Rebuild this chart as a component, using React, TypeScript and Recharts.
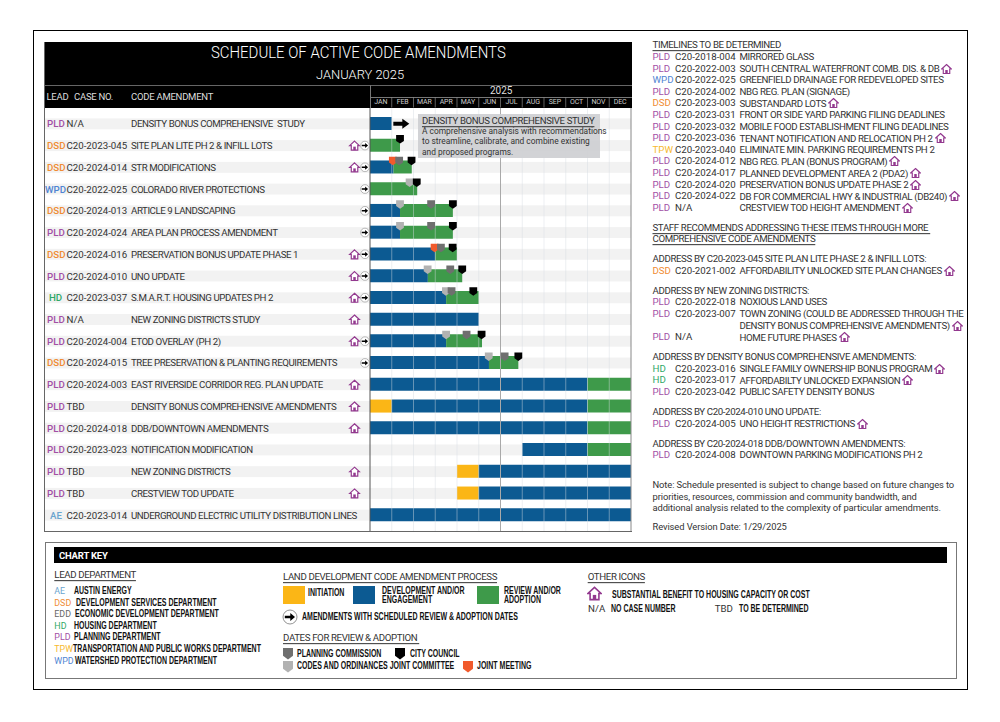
import React from 'react';
import { ComposedChart, Bar, Scatter, XAxis, YAxis, ReferenceLine, ReferenceArea } from 'recharts';

const months = ['JAN', 'FEB', 'MAR', 'APR', 'MAY', 'JUN', 'JUL', 'AUG', 'SEP', 'OCT', 'NOV', 'DEC'];
const monthTicks = [0.5, 1.5, 2.5, 3.5, 4.5, 5.5, 6.5, 7.5, 8.5, 9.5, 10.5, 11.5];
const monthLines = [1, 2, 3, 4, 5, 7, 8, 9, 10, 11];

const titles = [
  'DENSITY BONUS COMPREHENSIVE  STUDY', 'SITE PLAN LITE PH 2 & INFILL LOTS', 'STR MODIFICATIONS',
  'COLORADO RIVER PROTECTIONS', 'ARTICLE 9 LANDSCAPING', 'AREA PLAN PROCESS AMENDMENT',
  'PRESERVATION BONUS UPDATE PHASE 1', 'UNO UPDATE', 'S.M.A.R.T. HOUSING UPDATES PH 2',
  'NEW ZONING DISTRICTS STUDY', 'ETOD OVERLAY (PH 2)', 'TREE PRESERVATION & PLANTING REQUIREMENTS',
  'EAST RIVERSIDE CORRIDOR REG. PLAN UPDATE', 'DENSITY BONUS COMPREHENSIVE AMENDMENTS', 'DDB/DOWNTOWN AMENDMENTS',
  'NOTIFICATION MODIFICATION', 'NEW ZONING DISTRICTS', 'CRESTVIEW TOD UPDATE',
  'UNDERGROUND ELECTRIC UTILITY DISTRIBUTION LINES',
];
const leads = ['PLD', 'DSD', 'DSD', 'WPD', 'DSD', 'PLD', 'DSD', 'PLD', 'HD', 'PLD', 'PLD', 'DSD', 'PLD', 'PLD', 'PLD', 'PLD', 'PLD', 'PLD', 'AE'];
const caseNumbers = [
  'N/A', 'C20-2023-045', 'C20-2024-014', 'C20-2022-025', 'C20-2024-013', 'C20-2024-024', 'C20-2024-016',
  'C20-2024-010', 'C20-2023-037', 'N/A', 'C20-2024-004', 'C20-2024-015', 'C20-2024-003', 'TBD',
  'C20-2024-018', 'C20-2023-023', 'TBD', 'TBD', 'C20-2023-014',
];
const housingRows = [1, 2, 6, 7, 8, 9, 10, 12, 13, 14, 16, 17];
const scheduledRows = [1, 2, 3, 4, 5, 6, 7, 8, 10, 11];

// durations in months, stacked left to right
const waitMonths = [0, 0, 0, 0, 0, 0, 0, 0, 0, 0, 0, 0, 0, 0, 0, 7, 4, 4, 0];
const initiationMonths = [0, 0, 0, 0, 0, 0, 0, 0, 0, 0, 0, 0, 0, 1, 0, 0, 1, 1, 0];
const developmentMonths = [1, 0, 1.08, 0, 1.38, 1.38, 3, 2.66, 3.5, 5, 3.5, 5.47, 10, 9, 10, 3, 7, 7, 12];
const reviewMonths = [0, 1.38, 0.84, 2.17, 2.43, 2.43, 1, 1.58, 1.5, 0, 1.65, 1.35, 2, 2, 2, 2, 0, 0, 0];

const jointRows = [2, 6];
const jointDates = [1.05, 2.97];
const codesRows = [3, 4, 5, 7, 8, 10, 11];
const codesDates = [1.82, 1.38, 1.38, 2.65, 3.49, 3.5, 5.46];
const commissionRows = [2, 4, 5, 6, 7, 8, 10, 11];
const commissionDates = [1.34, 2.81, 2.81, 3.26, 3.69, 3.75, 4.44, 6.19];
const councilRows = [1, 2, 3, 4, 5, 6, 7, 8, 10, 11];
const councilDates = [1.38, 1.91, 2.15, 3.81, 3.81, 3.8, 4.24, 4.75, 5.13, 6.82];

const tbdItems = [
  ['PLD', 'C20-2018-004', 'MIRRORED GLASS', 0],
  ['PLD', 'C20-2022-003', 'SOUTH CENTRAL WATERFRONT COMB. DIS. & DB', 1],
  ['WPD', 'C20-2022-025', 'GREENFIELD DRAINAGE FOR REDEVELOPED SITES', 0],
  ['PLD', 'C20-2024-002', 'NBG REG. PLAN (SIGNAGE)', 0],
  ['DSD', 'C20-2023-003', 'SUBSTANDARD LOTS', 1],
  ['PLD', 'C20-2023-031', 'FRONT OR SIDE YARD PARKING FILING DEADLINES', 0],
  ['PLD', 'C20-2023-032', 'MOBILE FOOD ESTABLISHMENT FILING DEADLINES', 0],
  ['PLD', 'C20-2023-036', 'TENANT NOTIFICATION AND RELOCATION PH 2', 1],
  ['TPW', 'C20-2023-040', 'ELIMINATE MIN. PARKING REQUIREMENTS PH 2', 0],
  ['PLD', 'C20-2024-012', 'NBG REG. PLAN (BONUS PROGRAM)', 1],
  ['PLD', 'C20-2024-017', 'PLANNED DEVELOPMENT AREA 2 (PDA2)', 1],
  ['PLD', 'C20-2024-020', 'PRESERVATION BONUS UPDATE PHASE 2', 1],
  ['PLD', 'C20-2024-022', 'DB FOR COMMERCIAL HWY & INDUSTRIAL (DB240)', 1],
  ['PLD', 'N/A', 'CRESTVIEW TOD HEIGHT AMENDMENT', 1],
];
const siteItems = [['DSD', 'C20-2021-002', 'AFFORDABILITY UNLOCKED SITE PLAN CHANGES', 1]];
const zoningItems = [
  ['PLD', 'C20-2022-018', 'NOXIOUS LAND USES', 0],
  ['PLD', 'C20-2023-007', 'TOWN ZONING (COULD BE ADDRESSED THROUGH THE', 0],
  ['', '', 'DENSITY BONUS COMPREHENSIVE AMENDMENTS)', 1],
  ['PLD', 'N/A', 'HOME FUTURE PHASES', 1],
];
const bonusItems = [
  ['HD', 'C20-2023-016', 'SINGLE FAMILY OWNERSHIP BONUS PROGRAM', 1],
  ['HD', 'C20-2023-017', 'AFFORDABILTY UNLOCKED EXPANSION', 1],
  ['PLD', 'C20-2023-042', 'PUBLIC SAFETY DENSITY BONUS', 0],
];
const unoItems = [['PLD', 'C20-2024-005', 'UNO HEIGHT RESTRICTIONS', 1]];
const ddbItems = [['PLD', 'C20-2024-008', 'DOWNTOWN PARKING MODIFICATIONS PH 2', 0]];

const departments = [
  ['AE', 'AUSTIN ENERGY', 74],
  ['DSD', 'DEVELOPMENT SERVICES DEPARTMENT', 76],
  ['EDD', 'ECONOMIC DEVELOPMENT DEPARTMENT', 75],
  ['HD', 'HOUSING DEPARTMENT', 74],
  ['PLD', 'PLANNING DEPARTMENT', 74],
  ['TPW', 'TRANSPORTATION AND PUBLIC WORKS DEPARTMENT', 73],
  ['WPD', 'WATERSHED PROTECTION DEPARTMENT', 75],
];

const leadColors: any = { AE: '#6aa5cf', DSD: '#f08c33', EDD: '#666', HD: '#2fa866', PLD: '#a24fa5', TPW: '#f7b92e', WPD: '#4f84d2' };
const BLUE = '#0c5a92';
const GREEN = '#3e9a4a';
const YELLOW = '#fbb616';
const PURPLE = '#93398f';
const FONT = 'Roboto, "Liberation Sans", sans-serif';
const TIGHT = -0.38;

const rows = titles.map((title, i) => ({
  title,
  wait: waitMonths[i],
  initiation: initiationMonths[i],
  development: developmentMonths[i],
  review: reviewMonths[i],
}));
const markers = (rowList: number[], dates: number[]) => rowList.map((r, i) => ({ title: titles[r], month: dates[i] }));

function Txt({ x, y, size = 9.7, color = '#333', weight = 400, line, sp = TIGHT, sx = 1, children }: any) {
  return (
    <span style={{
      position: 'absolute', left: x, top: y, transform: `translateY(-50%) scaleX(${sx})`, transformOrigin: 'left center',
      whiteSpace: 'pre', fontSize: size, fontFamily: FONT, color, fontWeight: weight, lineHeight: 1, letterSpacing: sp,
      textDecoration: line ? 'underline' : undefined, textUnderlineOffset: 1.5,
    }}>{children}</span>
  );
}

function HousePath() {
  return (
    <g>
      <path d="M8 1.5 L15 8 H12.7 V14.5 H3.3 V8 H1 Z" fill="#fff" stroke={PURPLE} strokeWidth={1.7} strokeLinejoin="miter" />
      <rect x={6.2} y={9.5} width={3.6} height={5} fill={PURPLE} />
    </g>
  );
}

function HouseIcon({ size = 11, style }: any) {
  return <svg width={size} height={size} viewBox="0 0 16 16" style={style}><HousePath /></svg>;
}

function ArrowPath() {
  return (
    <g>
      <circle cx={8} cy={8} r={7} fill="#fff" stroke="#777" strokeWidth={0.8} />
      <path d="M2.8 6.8 H8.3 V4 L13 8 L8.3 12 V9.2 H2.8 Z" fill="#000" />
    </g>
  );
}

function Shield({ x, y, w, h, fill }: any) {
  return <path d={`M${x} ${y} H${x + w} V${y + h * 0.68} L${x + w / 2} ${y + h} L${x} ${y + h * 0.68} Z`} fill={fill} />;
}

const markerShape = (fill: string) => (props: any) => (
  <Shield x={props.cx - 3.9} y={props.cy - 10.5} w={7.8} h={8.5} fill={fill} />
);

function bigArrow(props: any) {
  const { cx, cy } = props;
  return <path d={`M${cx - 8} ${cy - 2} H${cx + 1} V${cy - 5} L${cx + 8} ${cy} L${cx + 1} ${cy + 5} V${cy + 2} H${cx - 8} Z`} fill="#000" />;
}

function TableTick({ y, index }: any) {
  const lead = leads[index];
  const leadX = lead === 'HD' ? 49 : lead === 'AE' ? 50 : lead === 'WPD' ? 45 : 47;
  return (
    <g fontFamily={FONT} fontSize={9.7} dominantBaseline="central">
      <text x={leadX} y={y} fill={leadColors[lead]} fontWeight={500}>{lead}</text>
      <text x={66.5} y={y} fill="#333">{caseNumbers[index]}</text>
      <text x={131} y={y} fill="#333" letterSpacing={-0.43} style={{ whiteSpace: 'pre' }}>{titles[index]}</text>
      {housingRows.includes(index) && <g transform={`translate(349,${y - 5.5}) scale(0.69)`}><HousePath /></g>}
      {scheduledRows.includes(index) && <g transform={`translate(360,${y - 5}) scale(0.62)`}><ArrowPath /></g>}
    </g>
  );
}

function MonthTick({ x, index }: any) {
  return (
    <g>
      <text x={x} y={102} textAnchor="middle" dominantBaseline="central" fontFamily={FONT} fontSize={7} letterSpacing={-0.1} fill="#ccc">{months[index]}</text>
      {index < 11 && <line x1={x + 10.87} x2={x + 10.87} y1={97} y2={107.5} stroke="#8a8a8a" strokeWidth={0.7} />}
    </g>
  );
}

// row stripe reaches left under the table columns, the area is given in plot coordinates
function stripe(props: any) {
  const { y, height } = props;
  return <rect x={45} y={y + 5.4} width={586} height={height - 10.8} fill="#f2f2f2" />;
}

function PanelRows({ items, top }: any) {
  return items.map((item: any, i: number) => {
    const y = top + i * 11.6;
    return (
      <React.Fragment key={i}>
        <Txt x={652.5} y={y} color={leadColors[item[0]]} sp={0}>{item[0]}</Txt>
        <Txt x={675} y={y} sp={0}>{item[1]}</Txt>
        <span style={{
          position: 'absolute', left: 739.5, top: y, transform: 'translateY(-50%)', whiteSpace: 'pre', fontSize: 9.7,
          fontFamily: FONT, color: '#333', lineHeight: 1, display: 'flex', alignItems: 'center', letterSpacing: TIGHT,
        }}>
          {item[2]}
          {item[3] === 1 && <HouseIcon size={11} style={{ marginLeft: 2 }} />}
        </span>
      </React.Fragment>
    );
  });
}

function Box({ x, y, w, h, ...style }: any) {
  return <div style={{ position: 'absolute', left: x, top: y, width: w, height: h, boxSizing: 'border-box', ...style }} />;
}

// the key uses a bold condensed face, no narrow font is installed so it is squeezed
function KeyLabel({ x, y, children }: any) {
  return (
    <span style={{
      position: 'absolute', left: x, top: y, transform: 'translateY(-50%) scaleX(0.7)', transformOrigin: 'left center',
      whiteSpace: 'pre', fontSize: 10, fontFamily: '"Liberation Sans", sans-serif', fontWeight: 700, color: '#111', lineHeight: 1,
    }}>{children}</span>
  );
}

export default function App() {
  return (
    <div style={{ position: 'fixed', left: 0, top: 0, width: 1000, height: 722, background: '#fff', overflow: 'hidden' }}>
      <Box x={33} y={30} w={935} h={660} border="1px solid #000" />
      <Box x={44.5} y={42} w={587.5} h={65.5} background="#000" />
      <Box x={44.5} y={85} w={587.5} h={0.8} background="#666" />
      <Box x={370} y={96.5} w={262} h={0.7} background="#777" />
      <Box x={44} y={42} w={0.8} h={490} background="#666" />
      <Box x={44} y={531} w={588} h={1} background="#666" />
      <Box x={370} y={85} w={1} h={23} background="#777" />

      <Txt x={211} y={53} size={16.6} color="#fff" weight={300} sp={0} sx={0.9}>SCHEDULE OF ACTIVE CODE AMENDMENTS</Txt>
      <Txt x={316} y={75} size={13.6} color="#fff" weight={300} sp={0} sx={0.95}>JANUARY 2025</Txt>
      <Txt x={46.5} y={97} size={9.5} color="#ddd" sp={-0.25}>LEAD</Txt>
      <Txt x={74} y={97} size={9.5} color="#ddd" sp={-0.25}>CASE NO.</Txt>
      <Txt x={131} y={97} size={9.5} color="#ddd" sp={-0.25}>CODE AMENDMENT</Txt>
      <Txt x={490} y={91} size={10} color="#ddd" sp={0}>2025</Txt>

      <div style={{ position: 'absolute', left: 0, top: 0 }}>
        <ComposedChart
          width={1000}
          height={722}
          layout="vertical"
          data={rows}
          margin={{ top: 93, right: 369, bottom: 191, left: 45 }}
          barSize={13}
        >
          <XAxis
            type="number"
            dataKey="month"
            orientation="top"
            domain={[0, 12]}
            ticks={monthTicks}
            interval={0}
            height={15}
            axisLine={false}
            tickLine={false}
            tick={<MonthTick />}
          />
          <YAxis
            type="category"
            dataKey="title"
            width={325}
            interval={0}
            allowDuplicatedCategory={false}
            padding={{ top: 5, bottom: 5 }}
            axisLine={false}
            tickLine={false}
            tick={<TableTick />}
          />
          {titles.map(t => (
            <ReferenceArea key={t} y1={t} y2={t} shape={stripe} ifOverflow="visible" />
          ))}
          <Bar dataKey="wait" stackId="plan" fill="transparent" isAnimationActive={false} />
          <Bar dataKey="initiation" stackId="plan" fill={YELLOW} isAnimationActive={false} />
          <Bar dataKey="development" stackId="plan" fill={BLUE} isAnimationActive={false} />
          <Bar dataKey="review" stackId="plan" fill={GREEN} isAnimationActive={false} />
          {monthLines.map(m => (
            <ReferenceLine key={m} x={m} stroke="#d5dce2" strokeOpacity={0.45} strokeWidth={1} />
          ))}
          <ReferenceLine x={0} stroke="#555" />
          <ReferenceLine x={6} stroke="#a9a9a9" />
          <ReferenceLine x={12} stroke="#888" />
          <Scatter data={[{ title: titles[0], month: 1.44 }]} shape={bigArrow} isAnimationActive={false} />
          <Scatter data={markers(jointRows, jointDates)} shape={markerShape('#f15a2c')} isAnimationActive={false} />
          <Scatter data={markers(codesRows, codesDates)} shape={markerShape('#b2b2b2')} isAnimationActive={false} />
          <Scatter data={markers(commissionRows, commissionDates)} shape={markerShape('#6f6f6f')} isAnimationActive={false} />
          <Scatter data={markers(councilRows, councilDates)} shape={markerShape('#000')} isAnimationActive={false} />
        </ComposedChart>
      </div>

      <Box x={418} y={114} w={182} h={43.5} background="rgba(207,208,211,0.93)" />
      <Txt x={422} y={120.5} size={9.6} line sp={-0.35}>DENSITY BONUS COMPREHENSIVE STUDY</Txt>
      <Txt x={422} y={131} size={8.4} sp={0}>A comprehensive analysis with recommendations</Txt>
      <Txt x={422} y={141.3} size={8.4} sp={0}>to streamline, calibrate, and combine existing</Txt>
      <Txt x={422} y={151.7} size={8.4} sp={0}>and proposed programs.</Txt>

      <Txt x={652.5} y={45.3} line>TIMELINES TO BE DETERMINED</Txt>
      <PanelRows items={tbdItems} top={57} />
      <Txt x={652.5} y={227.7} line>STAFF RECOMMENDS ADDRESSING THESE ITEMS THROUGH MORE </Txt>
      <Txt x={652.5} y={239.2} line>COMPREHENSIVE CODE AMENDMENTS</Txt>
      <Txt x={652.5} y={259.3}>ADDRESS BY C20-2023-045 SITE PLAN LITE PHASE 2 & INFILL LOTS:</Txt>
      <PanelRows items={siteItems} top={270.7} />
      <Txt x={652.5} y={290.7}>ADDRESS BY NEW ZONING DISTRICTS:</Txt>
      <PanelRows items={zoningItems} top={302.3} />
      <Txt x={652.5} y={357.3}>ADDRESS BY DENSITY BONUS COMPREHENSIVE AMENDMENTS:</Txt>
      <PanelRows items={bonusItems} top={368.7} />
      <Txt x={652.5} y={412}>ADDRESS BY C20-2024-010 UNO UPDATE:</Txt>
      <PanelRows items={unoItems} top={423.7} />
      <Txt x={652.5} y={443.7}>ADDRESS BY C20-2024-018 DDB/DOWNTOWN AMENDMENTS:</Txt>
      <PanelRows items={ddbItems} top={455.3} />
      <Txt x={652.5} y={485} size={9.4} sp={-0.1}>Note: Schedule presented is subject to change based on future changes to</Txt>
      <Txt x={652.5} y={496.5} size={9.4} sp={-0.1}>priorities, resources, commission and community bandwidth, and</Txt>
      <Txt x={652.5} y={508} size={9.4} sp={-0.1}>additional analysis related to the complexity of particular amendments.</Txt>
      <Txt x={652.5} y={527.3} size={9.4} sp={-0.1}>Revised Version Date: 1/29/2025</Txt>

      <Box x={44.5} y={542} w={912} h={137} border="1px solid #777" />
      <Box x={54} y={547} w={893} h={16} background="#000" />
      <Txt x={59} y={555.5} size={9.5} color="#fff" weight={700} sp={-0.2}>CHART KEY</Txt>

      <Txt x={54.3} y={574.7} line>LEAD DEPARTMENT</Txt>
      {departments.map((d: any, i) => (
        <React.Fragment key={d[0]}>
          <Txt x={54.3} y={591 + i * 11.6} size={8.9} color={leadColors[d[0]]} sp={0}>{d[0]}</Txt>
          <KeyLabel x={d[2]} y={591 + i * 11.6}>{d[1]}</KeyLabel>
        </React.Fragment>
      ))}

      <Txt x={283} y={577} line>LAND DEVELOPMENT CODE AMENDMENT PROCESS</Txt>
      <Box x={283} y={586} w={22} h={17.5} background={YELLOW} />
      <KeyLabel x={308} y={593}>INITIATION</KeyLabel>
      <Box x={353} y={586} w={22} h={17.5} background={BLUE} />
      <KeyLabel x={381.5} y={590.5}>DEVELOPMENT AND/OR</KeyLabel>
      <KeyLabel x={381.5} y={600}>ENGAGEMENT</KeyLabel>
      <Box x={476.5} y={586} w={22} h={17.5} background={GREEN} />
      <KeyLabel x={504} y={590.5}>REVIEW AND/OR</KeyLabel>
      <KeyLabel x={504} y={600}>ADOPTION</KeyLabel>
      <svg width={16} height={16} viewBox="0 0 16 16" style={{ position: 'absolute', left: 282, top: 609 }}><ArrowPath /></svg>
      <KeyLabel x={302} y={617}>AMENDMENTS WITH SCHEDULED REVIEW & ADOPTION DATES</KeyLabel>

      <Txt x={283} y={637.7} line>DATES FOR REVIEW & ADOPTION </Txt>
      <svg width={1000} height={722} style={{ position: 'absolute', left: 0, top: 0 }}>
        <Shield x={283} y={648} w={10} h={11.5} fill="#6f6f6f" />
        <Shield x={395} y={648} w={10} h={11.5} fill="#000" />
        <Shield x={283} y={661} w={10} h={11.5} fill="#b2b2b2" />
        <Shield x={463} y={661} w={10} h={11.5} fill="#f15a2c" />
      </svg>
      <KeyLabel x={297} y={654}>PLANNING COMMISSION</KeyLabel>
      <KeyLabel x={409.5} y={654}>CITY COUNCIL</KeyLabel>
      <KeyLabel x={297} y={665.7}>CODES AND ORDINANCES JOINT COMMITTEE</KeyLabel>
      <KeyLabel x={477.3} y={665.7}>JOINT MEETING</KeyLabel>

      <Txt x={587.7} y={577.3} line>OTHER ICONS</Txt>
      <HouseIcon size={15} style={{ position: 'absolute', left: 587, top: 586 }} />
      <KeyLabel x={611.7} y={595}>SUBSTANTIAL BENEFIT TO HOUSING CAPACITY OR COST</KeyLabel>
      <Txt x={588} y={609} sp={0}>N/A</Txt>
      <KeyLabel x={610.7} y={609}>NO CASE NUMBER</KeyLabel>
      <Txt x={714.7} y={609} sp={0}>TBD</Txt>
      <KeyLabel x={738.7} y={609}>TO BE DETERMINED</KeyLabel>
    </div>
  );
}
